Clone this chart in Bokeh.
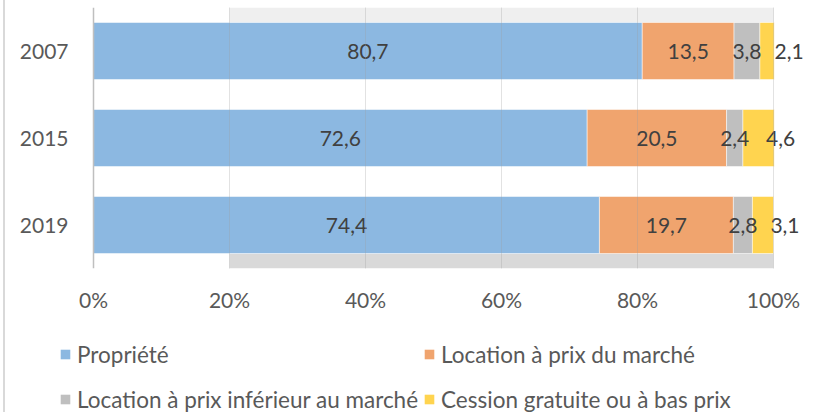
from bokeh.plotting import figure
from bokeh.layouts import column
from bokeh.models import (ColumnDataSource, FactorRange, Range1d, FixedTicker,
                          Legend, LegendItem, PrintfTickFormatter)
from bokeh.core.properties import value
from bokeh.embed import file_html
from bokeh.resources import INLINE

# Répartition des statuts d'occupation (en %)
years = ["2007", "2015", "2019"]
series = ["Propriété", "Location à prix du marché",
          "Location à prix inférieur au marché", "Cession gratuite ou à bas prix"]
propriete = [80.7, 72.6, 74.4]
location_marche = [13.5, 20.5, 19.7]
location_inferieur = [3.8, 2.4, 2.8]
cession = [2.1, 4.6, 3.1]
pct_ticks = [0, 20, 40, 60, 80, 100]

colors = ["#8cb8e1", "#f0a46e", "#bfbfbf", "#ffd44f"]
FONT = "Lato"
TEXT_SIZE = "21px"
BAR_H = 0.655
# the scale runs 0..100 %; the frame spans the whole canvas width so the
# category labels (left) and the outer segment labels (right) stay inside it
PX_PER_UNIT = 6.8
X_START = -88 / PX_PER_UNIT
X_END = 100 + 43 / PX_PER_UNIT
FRAME_STYLE = {"margin-left": "3px", "border-left": "2px solid #d9d9d9"}

keys = ["prop", "lm", "li", "cg"]
values = [propriete, location_marche, location_inferieur, cession]
data = {"year": years}
for k, v in zip(keys, values):
    data[k] = v
src = ColumnDataSource(data)

p = figure(width=811, height=330,
           y_range=FactorRange(factors=years[::-1]),
           x_range=Range1d(X_START, X_END),
           output_backend="svg", toolbar_location=None,
           min_border_left=0, min_border_right=0,
           min_border_top=7, min_border_bottom=62)
p.styles = FRAME_STYLE
p.outline_line_color = None
p.background_fill_color = "white"
p.border_fill_color = "white"

# shaded bands above the first bar and below the last one
gap = (1 - BAR_H) / 2
p.hbar(y=[(years[0], 0.5 - gap / 2)], left=20, right=100, height=gap,
       fill_color="#efefef", line_color=None)
p.hbar(y=[(years[-1], -(0.5 - gap / 2))], left=20, right=100, height=gap,
       fill_color="#d9d9d9", line_color=None)

bars = p.hbar_stack(keys, y="year", height=BAR_H, color=colors, source=src,
                    line_color="white", line_width=0.5)

# data labels centred in each segment
for i, (k, v) in enumerate(zip(keys, values)):
    lefts = [sum(vals[j] for vals in values[:i]) for j in range(len(years))]
    centers = [l + x / 2 for l, x in zip(lefts, v)]
    labels = [f"{x:.1f}".replace(".", ",") for x in v]
    p.text(x=centers, y=years, text=labels,
           text_font=value(FONT), text_font_size=TEXT_SIZE, text_color="#404040",
           text_align="center", text_baseline="middle",
           x_offset=22 if i == 3 else 0)

# axes
p.xaxis.ticker = FixedTicker(ticks=pct_ticks)
p.xaxis.formatter = PrintfTickFormatter(format="%d%%")
p.xaxis.axis_line_color = None
p.xaxis.major_tick_line_color = None
p.xaxis.minor_tick_line_color = None
p.xaxis.major_label_standoff = 12
p.yaxis.fixed_location = 0
p.yaxis.axis_line_color = "#bfbfbf"
p.yaxis.axis_line_width = 1.5
p.yaxis.major_tick_line_color = None
p.yaxis.minor_tick_line_color = None
p.yaxis.major_label_standoff = 19
for ax in (p.xaxis, p.yaxis):
    ax.major_label_text_font = FONT
    ax.major_label_text_font_size = TEXT_SIZE
    ax.major_label_text_color = "#595959"

p.ygrid.grid_line_color = None
p.xgrid.ticker = FixedTicker(ticks=pct_ticks[1:])
p.xgrid.grid_line_color = "#a0a0a0"
p.xgrid.grid_line_alpha = 0.3
p.xgrid.level = "overlay"

# legend strip under the chart; its swatch renderers sit outside the view
leg_fig = figure(width=811, height=82, x_range=Range1d(0, 1), y_range=Range1d(0, 1),
                 output_backend="svg", toolbar_location=None,
                 min_border_left=0, min_border_right=0,
                 min_border_top=0, min_border_bottom=0)
leg_fig.styles = FRAME_STYLE
leg_fig.axis.visible = False
leg_fig.grid.visible = False
leg_fig.outline_line_color = None
leg_src = ColumnDataSource({"y": [-1], "l": [0], "r": [1]})
swatches = [leg_fig.hbar(y="y", left="l", right="r", height=0.5, fill_color=c,
                         line_color=None, source=leg_src) for c in colors]

# two rows, filled column by column
order = [0, 2, 1, 3]
legend = Legend(items=[LegendItem(label=series[i], renderers=[swatches[i]]) for i in order],
                ncols=2, location=(54, -7),
                padding=0, margin=0, spacing=5,
                border_line_color=None, background_fill_alpha=0,
                glyph_width=12, glyph_height=12, label_height=40, label_standoff=6,
                label_text_font=FONT, label_text_font_size="22.5px",
                label_text_color="#595959")
leg_fig.add_layout(legend, "center")

layout = column(p, leg_fig, spacing=0)
open("out.html", "w").write(file_html(layout, INLINE))
